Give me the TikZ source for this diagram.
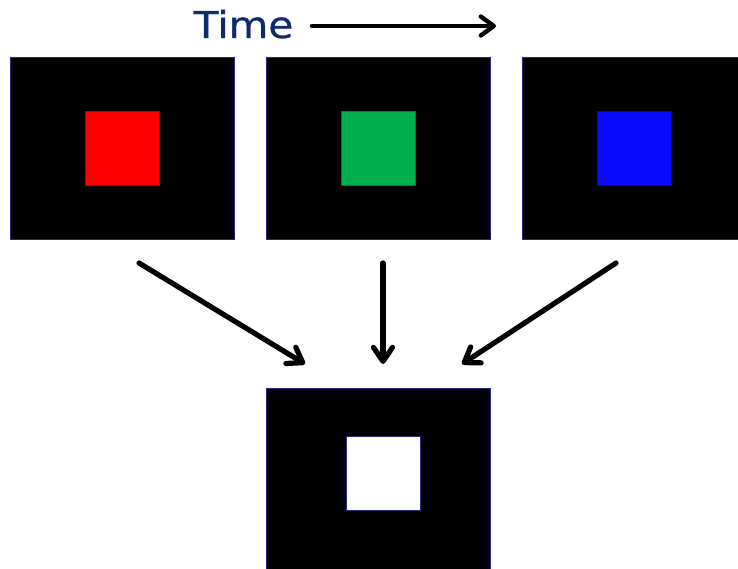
\documentclass[tikz,border=0pt]{standalone}
\usepackage{fontspec}
\newfontfamily\timefont[FakeBold=0.8]{DejaVu Sans}
\usetikzlibrary{arrows.meta,positioning}
\definecolor{timeblue}{RGB}{16,42,110}
\definecolor{frameedge}{RGB}{40,40,130}
\definecolor{patchred}{RGB}{255,0,0}
\definecolor{patchgreen}{RGB}{0,176,80}
\definecolor{patchblue}{RGB}{10,10,255}
\tikzset{
	frame/.style={draw=frameedge, line width=0.8pt, fill=black, minimum width=224pt, minimum height=182pt, inner sep=0pt, outer sep=0pt},
	patch/.style={draw=#1!70!black, line width=0.6pt, fill=#1, minimum size=74pt, inner sep=0pt},
	flow/.style={line width=5.2pt, line cap=round, -{Straight Barb[length=14pt, width=19pt, round]}},
}
\begin{document}
\begin{tikzpicture}[x=1pt,y=-1pt]
					\useasboundingbox (0,0) rectangle (738,569);
					\clip (0,0) rectangle (738,569);
					
					% Frames in time order
					\node[frame] (f1) at (122,148) {};
					\node[frame] (f2) at (378,148) {};
					\node[frame] (f3) at (634,148) {};
					\node[patch=patchred] (red) at (f1) {};
					\node[patch=patchgreen] (green) at (f2) {};
					\node[patch=patchblue] (blue) at (f3) {};
					
					% Combined frame
					\node[frame] (fsum) at (378,479) {};
					\node[draw=frameedge, line width=0.6pt, fill=white, minimum size=74pt, inner sep=0pt] (white) at ([xshift=5pt,yshift=6pt]fsum.center) {};
					
					% Time axis
					\node[anchor=base, inner sep=0pt, text=timeblue, xscale=1.1, font=\timefont\fontsize{37}{40}\selectfont] (time) at (243.5,38) {Time};
					\coordinate (tstart) at (312,26);
					\coordinate (tend) at (496,26);
					\draw[line width=4.4pt, line cap=round, -{Straight Barb[length=13pt, width=19pt, round]}] (tstart) -- (tend);
					
					% Arrows into the sum
					\coordinate (s1) at (139,263);
					\coordinate (s2) at (383,263);
					\coordinate (s3) at (616,263);
					\coordinate (t1) at (305,364);
					\coordinate (t2) at (383,364);
					\coordinate (t3) at (462,364);
					\draw[flow] (s1) -- (t1);
					\draw[flow] (s2) -- (t2);
					\draw[flow] (s3) -- (t3);
				\end{tikzpicture}
\end{document}
